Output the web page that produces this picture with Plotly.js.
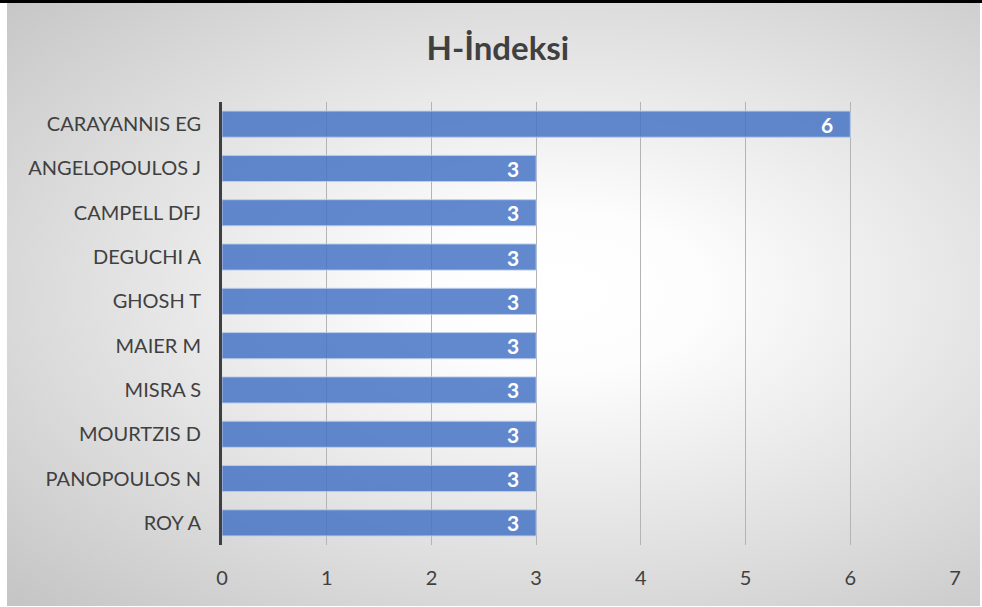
<!DOCTYPE html>
<html>
<head>
<meta charset="utf-8">
<script src="https://cdn.plot.ly/plotly-3.0.1.min.js"></script>
<style>
  html, body { margin: 0; padding: 0; background: #ffffff; }
  #wrap { position: relative; width: 982px; height: 607px; overflow: hidden; }
  #bg { position: absolute; left: 7px; top: 3px; width: 973px; height: 603px;
        background: radial-gradient(ellipse farthest-corner at 57% 48%, #ffffff 0%, #fdfdfd 18%, #c4c4c4 100%); }
  #topline { position: absolute; left: 0; top: 0; width: 982px; height: 3px; background: #000; }
  #chart { position: absolute; left: 0; top: 0; width: 982px; height: 607px; }
</style>
</head>
<body>
<div id="wrap">
  <div id="bg"></div>
  <div id="topline"></div>
  <div id="chart"></div>
</div>
<script>
const titleText = "H-İndeksi";
const authors = ["CARAYANNIS EG", "ANGELOPOULOS J", "CAMPELL DFJ", "DEGUCHI A", "GHOSH T",
                 "MAIER M", "MISRA S", "MOURTZIS D", "PANOPOULOS N", "ROY A"];
const hIndex = [6, 3, 3, 3, 3, 3, 3, 3, 3, 3];
const xTicks = [0, 1, 2, 3, 4, 5, 6, 7];

const textColor = "#404040";
const fontFam = "Lato, 'Noto Sans', sans-serif";

const trace = {
  type: "bar",
  orientation: "h",
  y: authors,
  x: hIndex,
  marker: { color: "rgba(68,114,196,0.84)", line: { color: "rgba(190,206,236,0.9)", width: 1 } },
  hoverinfo: "none",
  width: 0.59
};

const annotations = authors.map((a, i) => ({
  x: hIndex[i], y: a, xref: "x", yref: "y",
  text: String(hIndex[i]), showarrow: false,
  xanchor: "right", yanchor: "middle", xshift: -15,
  font: { family: fontFam, size: 21, color: "#ffffff", weight: "bold" }
}));

const layout = {
  width: 982, height: 607,
  margin: { l: 222, r: 27, t: 102, b: 62 },
  paper_bgcolor: "rgba(0,0,0,0)",
  plot_bgcolor: "rgba(0,0,0,0)",
  title: { text: "<b>" + titleText + "</b>", x: 0.507, xanchor: "center", y: 0.921, yanchor: "middle",
           font: { family: fontFam, size: 33, color: textColor } },
  showlegend: false,
  xaxis: {
    range: [0, 7], tickvals: xTicks, ticktext: xTicks.map(String),
    showgrid: true, gridcolor: "#b4b4b4", gridwidth: 1,
    zeroline: false, showline: false, ticks: "",
    ticklabelstandoff: 19,
    tickfont: { family: fontFam, size: 20, color: textColor },
    fixedrange: true
  },
  yaxis: {
    type: "category", autorange: "reversed",
    showgrid: false, zeroline: false,
    showline: true, linecolor: "#404040", linewidth: 3,
    ticks: "", ticklabelstandoff: 14,
    tickfont: { family: fontFam, size: 20, color: textColor },
    fixedrange: true
  },
  annotations: annotations
};

Plotly.newPlot("chart", [trace], layout, { displayModeBar: false, staticPlot: true });
</script>
</body>
</html>
